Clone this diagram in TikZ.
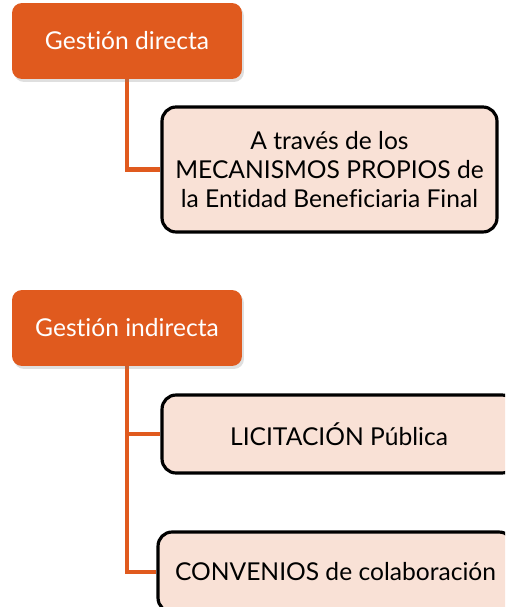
\documentclass[tikz,border=0pt]{standalone}
\usepackage{fontspec}
\setmainfont{Lato}[Ligatures=NoCommon]
\usetikzlibrary{positioning,shadows,backgrounds}
\definecolor{naranja}{HTML}{E05A1E}
\definecolor{durazno}{HTML}{F9E1D6}
\tikzset{
  gestion/.style={rounded corners=0.2cm, fill=naranja, text=white,
    minimum width=4.6cm, minimum height=1.52cm,
    drop shadow={shadow xshift=0.04cm, shadow yshift=-0.06cm, opacity=0.25}},
  via/.style={rounded corners=0.28cm, draw=black, line width=1.8pt, fill=durazno,
    text=black, align=center, inner sep=2pt},
  rama/.style={draw=naranja, line width=2.3pt}
}
\begin{document}
\begin{tikzpicture}[x=0.02cm,y=-0.02cm,font=\fontsize{14}{16.5}\selectfont]
			% Marco
			\useasboundingbox (0,0) rectangle (505,607);
			\clip (0,0) rectangle (505,607);
			
			% Gestión directa
			\node[gestion] (gd) at (127,41) {Gestión directa};
			\node[via, minimum width=6.7cm, minimum height=2.5cm] (mp) at (329.5,169.5)
			  {A través de los\\MECANISMOS PROPIOS de\\la Entidad Beneficiaria Final};
			
			% Gestión indirecta
			\node[gestion] (gi) at (127,328) {Gestión indirecta};
			\node[via, minimum width=7.08cm, minimum height=1.56cm] (lp) at (339,434)
			  {LICITACIÓN Pública};
			\node[via, minimum width=7.1cm, minimum height=1.6cm] (cc) at (335.5,572)
			  {CONVENIOS de colaboración};
			
			% Ramas (detrás de las cajas)
			\begin{pgfonlayer}{background}
			\draw[rama] (gd.south) |- (mp.west);
			\draw[rama] (gi.south) |- (lp.west);
			\draw[rama] (gi.south) |- (cc.west);
			\end{pgfonlayer}
\end{tikzpicture}
\end{document}
